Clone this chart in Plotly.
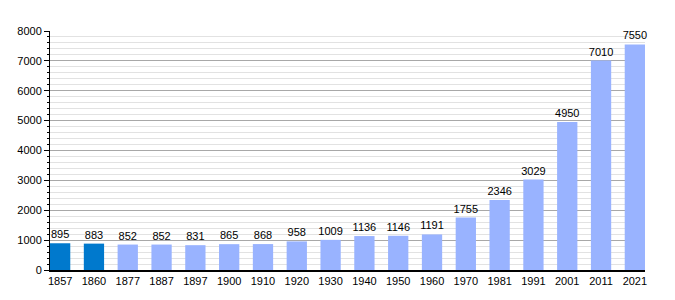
import plotly.graph_objects as go

years = ["1857", "1860", "1877", "1887", "1897", "1900", "1910", "1920", "1930",
         "1940", "1950", "1960", "1970", "1981", "1991", "2001", "2011", "2021"]
population = [895, 883, 852, 852, 831, 865, 868, 958, 1009,
              1136, 1146, 1191, 1755, 2346, 3029, 4950, 7010, 7550]
dark_count = 2
colors = ["#0079CD" if i < dark_count else "#99B3FF" for i in range(len(years))]

fig = go.Figure(go.Bar(
    x=years, y=population, width=0.6,
    marker=dict(color=colors, line=dict(width=0)),
    text=[str(v) for v in population], textposition="outside",
    textfont=dict(family="Liberation Sans, Arial", size=11, color="black"),
    cliponaxis=False,
))

fig.update_layout(
    width=675, height=300,
    margin=dict(l=50, r=30, t=31, b=30),
    paper_bgcolor="white", plot_bgcolor="white",
    font=dict(family="Liberation Sans, Arial", size=11, color="black"),
    showlegend=False,
    uniformtext=dict(minsize=11, mode="show"),
)
fig.update_xaxes(
    type="category", range=[-0.3, len(years) - 0.7],
    showline=True, linecolor="black", linewidth=1.5,
    ticks="", showgrid=False, tickfont=dict(size=11),
)
fig.update_yaxes(
    range=[0, 8000], dtick=1000, tick0=0,
    showline=True, linecolor="black", linewidth=1,
    ticks="outside", ticklen=5, tickcolor="black",
    showgrid=True, gridcolor="#A8A8A8", gridwidth=1,
    zeroline=False,
    minor=dict(dtick=200, ticks="outside", ticklen=2, tickcolor="black",
               showgrid=True, gridcolor="#E2E2E2", gridwidth=1),
    tickfont=dict(size=11),
)

fig.write_html("out.html")
